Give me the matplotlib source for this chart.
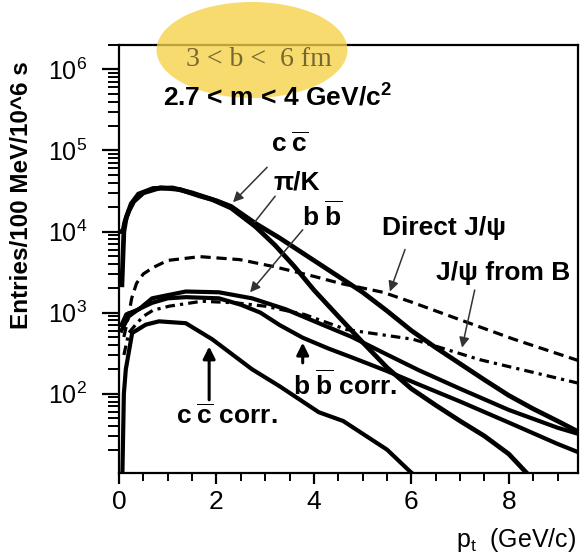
import matplotlib
matplotlib.use("Agg")
import matplotlib.pyplot as plt
from matplotlib.patches import Ellipse
from matplotlib.ticker import LogLocator, MultipleLocator, NullFormatter

plt.rcParams['font.family'] = ['Liberation Sans', 'DejaVu Sans']
plt.rcParams['mathtext.fontset'] = 'custom'
plt.rcParams['mathtext.rm'] = 'Liberation Sans'
plt.rcParams['mathtext.bf'] = 'Liberation Sans:bold'
plt.rcParams['mathtext.it'] = 'Liberation Sans:italic'

# ---- pair-mass-window spectra vs pt (entries / 100 MeV / 10^6 s) ----
ccbar_pt = [0.0, 0.08, 0.12, 0.2, 0.3, 0.5, 0.85, 1.25, 1.65, 2.0, 2.3, 2.8, 3.3,
            4.0, 4.5, 5.0, 5.5, 6.0, 6.5, 7.0, 7.5, 8.0, 8.5, 9.0, 9.42]
ccbar_n = [1.0e4, 1.0e4, 1.32e4, 1.78e4, 2.34e4, 3.0e4, 3.47e4, 3.3e4, 2.75e4,
           2.4e4, 2.04e4, 1.26e4, 8.3e3, 4.4e3, 2.8e3, 1.78e3, 1.05e3, 600,
           370, 234, 148, 95, 65, 46, 34]

piK_pt = [0.06, 0.1, 0.15, 0.25, 0.4, 0.7, 1.1, 1.5, 1.9, 2.3, 2.8, 3.2, 3.6,
          4.0, 4.5, 5.0, 5.5, 6.0, 6.5, 7.0, 7.5, 8.0, 8.4]
piK_n = [2.2e3, 1.0e4, 1.5e4, 2.2e4, 2.9e4, 3.4e4, 3.45e4, 3.0e4, 2.5e4, 1.95e4,
         1.15e4, 6.8e3, 3.7e3, 1.9e3, 900, 430, 210, 115, 72, 46, 30, 18, 10]

bbbar_pt = [0.05, 0.15, 0.41, 0.68, 1.37, 2.05, 2.73, 3.42, 4.1, 4.78, 5.47,
            6.15, 7.0, 8.0, 9.0, 9.42]
bbbar_n = [700, 950, 1.1e3, 1.5e3, 1.82e3, 1.78e3, 1.5e3, 1.1e3, 740, 500, 310,
           195, 115, 63, 38, 32]

bbcorr_pt = [0.05, 0.2, 0.4, 0.68, 1.0, 1.37, 2.05, 2.5, 2.9, 3.3, 3.77, 4.3,
             4.78, 5.5, 6.15, 7.0, 8.0, 9.0, 9.42]
bbcorr_n = [600, 900, 1.1e3, 1.32e3, 1.5e3, 1.55e3, 1.5e3, 1.25e3, 1.0e3, 700,
            490, 360, 280, 190, 130, 80, 44, 24, 19]

direct_pt = [0.1, 0.19, 0.26, 0.36, 0.5, 0.7, 1.0, 1.66, 2.48, 3.17, 4.0, 4.53,
             5.42, 6.0, 7.14, 8.1, 9.42]
direct_n = [500, 870, 1.5e3, 2.3e3, 3.0e3, 3.6e3, 4.4e3, 4.9e3, 4.5e3, 3.7e3,
            2.8e3, 2.3e3, 1.78e3, 1.35e3, 760, 470, 257]

fromB_pt = [0.1, 0.2, 0.35, 0.5, 0.7, 1.03, 1.7, 2.39, 3.0, 3.8, 4.67, 6.04,
            7.4, 9.42]
fromB_n = [300, 560, 720, 900, 1.07e3, 1.2e3, 1.38e3, 1.32e3, 1.2e3, 950, 617,
           468, 263, 135]

cccorr_pt = [0.07, 0.1, 0.14, 0.27, 0.55, 0.82, 1.37, 1.91, 2.73, 3.3, 4.1,
             4.6, 5.5, 5.97, 6.05]
cccorr_n = [10.5, 100, 200, 560, 710, 780, 740, 470, 200, 123, 59, 46, 20.4,
            11, 10]

fig = plt.figure(figsize=(5.81, 5.56), dpi=100)
ax = fig.add_axes([119 / 581, 83 / 556, 459 / 581, 428 / 556])
ax.set_yscale('log')
ax.set_xlim(0, 9.42)
ax.set_ylim(10.5, 2.0e6)

ax.plot(ccbar_pt, ccbar_n, color='black', lw=3.4, solid_joinstyle='miter')
ax.plot(piK_pt, piK_n, color='black', lw=3.4, solid_joinstyle='miter')
ax.plot(bbbar_pt, bbbar_n, color='black', lw=3.0)
ax.plot(bbcorr_pt, bbcorr_n, color='black', lw=3.0)
ax.plot(direct_pt, direct_n, color='black', lw=2.3, dashes=(3.2, 1.8))
ax.plot(fromB_pt, fromB_n, color='black', lw=2.3, dashes=(3.0, 1.6, 1.0, 1.6))
ax.plot(cccorr_pt, cccorr_n, color='black', lw=3.0)

# axes frame and ticks
for s in ax.spines.values():
    s.set_linewidth(1.6)
ax.yaxis.set_major_locator(LogLocator(base=10, numticks=20))
ax.yaxis.set_minor_locator(LogLocator(base=10, subs=range(2, 10), numticks=20))
ax.yaxis.set_minor_formatter(NullFormatter())
ax.xaxis.set_major_locator(MultipleLocator(2))
ax.xaxis.set_minor_locator(MultipleLocator(0.5))
ax.tick_params(axis='y', which='major', direction='out', length=12, width=1.6,
               labelsize=18, pad=11)
ax.tick_params(axis='y', which='minor', direction='out', length=8, width=1.4)
ax.tick_params(axis='x', which='major', direction='out', length=8, width=1.6,
               labelsize=19, pad=4)
ax.tick_params(axis='x', which='minor', direction='out', length=6, width=1.4)

fig.text(22 / 581, 1 - 195 / 556, 'Entries/100 MeV/10^6 s', rotation=90,
         fontsize=17.5, fontweight='bold', ha='center', va='center')
fig.text(516 / 581, 1 - 540 / 556, r'p$_\mathdefault{t}$  (GeV/c)', fontsize=18,
         ha='center', va='center')

# run conditions, under a highlight
fig.patches.append(Ellipse((252 / 581, 1 - 50 / 556), 191 / 581, 96 / 556,
                           transform=fig.transFigure, facecolor=(0.965, 0.82, 0.28),
                           edgecolor='none', alpha=0.78, zorder=5))
fig.text(259 / 581, 1 - 60 / 556, '3 < b <  6 fm', fontsize=20,
         family=['Liberation Serif', 'DejaVu Serif'], color='#76672e',
         ha='center', va='center', zorder=6)
fig.text(277 / 581, 1 - 97 / 556, r'2.7 < m < 4 GeV/c$^{\mathbf{2}}$', fontsize=19,
         fontweight='bold', ha='center', va='center', zorder=6)

# curve labels
lab = dict(fontsize=19, ha='center', va='center', fontweight='bold')
thin = dict(arrowstyle='-|>', lw=1.1, color='#333333', mutation_scale=15,
            shrinkA=0, shrinkB=0)
bold = dict(arrowstyle='-|>', lw=2.2, color='black', mutation_scale=18,
            shrinkA=0, shrinkB=0)

ax.text(3.51, 1.17e5, r'$\mathbf{c}\;\overline{\mathbf{c}}$', **lab)
ax.annotate('', xy=(2.34, 2.3e4), xytext=(3.04, 6.2e4), arrowprops=thin)
ax.text(3.65, 4.0e4, 'π/K', **lab)
ax.annotate('', xy=(2.75, 1.23e4), xytext=(3.24, 2.9e4),
            arrowprops=dict(arrowstyle='-', lw=1.1, color='#333333'))
ax.text(4.16, 1.55e4, r'$\mathbf{b}\;\overline{\mathbf{b}}$', **lab)
ax.annotate('', xy=(2.69, 1.78e3), xytext=(3.77, 1.05e4), arrowprops=thin)
ax.text(6.67, 1.12e4, 'Direct J/ψ', **lab)
ax.annotate('', xy=(5.56, 1.82e3), xytext=(5.87, 6.0e3), arrowprops=thin)
ax.text(7.88, 3.1e3, 'J/ψ from B', **lab)
ax.annotate('', xy=(7.04, 370), xytext=(7.30, 1.9e3), arrowprops=thin)
ax.text(4.64, 129, r'$\mathbf{b}\;\overline{\mathbf{b}}\ \mathbf{corr.}$', **lab)
ax.annotate('', xy=(3.77, 426), xytext=(3.77, 240), arrowprops=bold)
ax.text(2.22, 52, r'$\mathbf{c}\;\overline{\mathbf{c}}\ \mathbf{corr.}$', **lab)
ax.annotate('', xy=(1.85, 382), xytext=(1.85, 84), arrowprops=bold)

fig.savefig('out.png', dpi=100)
